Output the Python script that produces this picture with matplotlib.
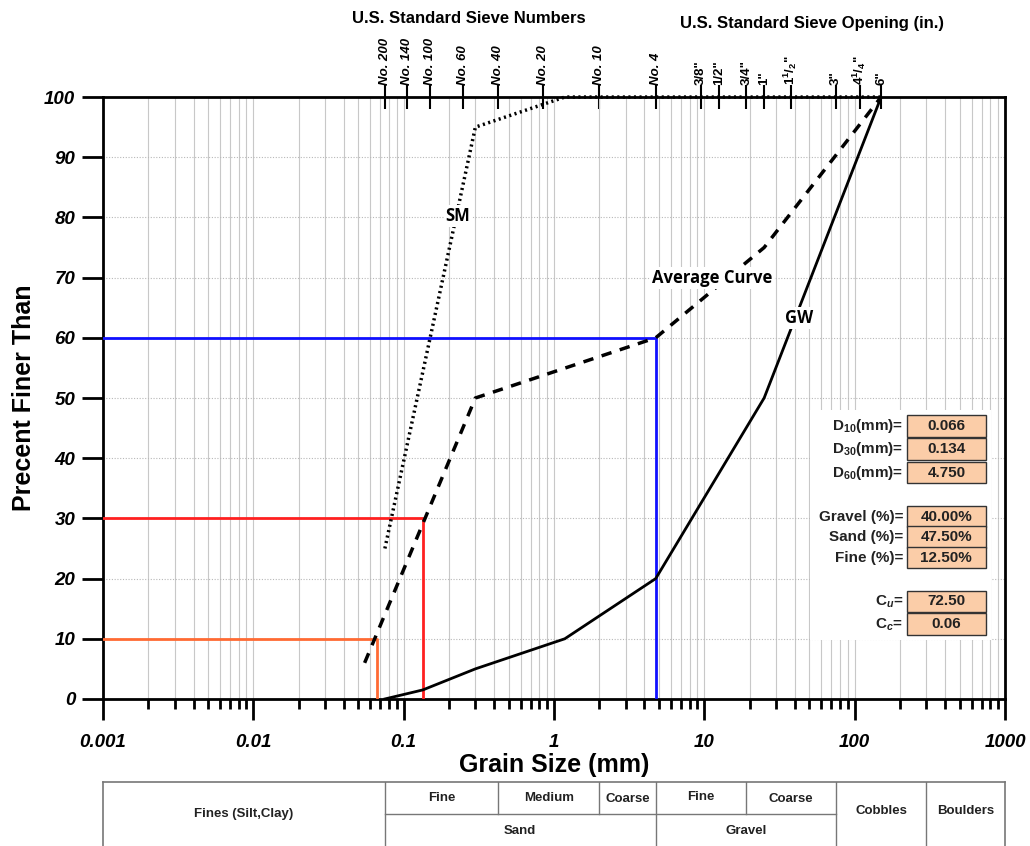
import numpy as np
import matplotlib.pyplot as plt
from matplotlib.patches import Rectangle
from matplotlib.ticker import LogLocator, NullFormatter, FixedLocator

plt.rcParams['font.family'] = ['Liberation Sans', 'DejaVu Sans']
plt.rcParams['mathtext.fontset'] = 'custom'
plt.rcParams['mathtext.rm'] = 'Liberation Sans:bold'
plt.rcParams['mathtext.it'] = 'Liberation Sans:bold:italic'
plt.rcParams['mathtext.bf'] = 'Liberation Sans:bold'

# gradation curves (grain size mm, percent finer)
sm_size = [0.075, 0.3, 0.85, 1.18, 150]
sm_pass = [25, 95, 98.8, 100, 100]
gw_size = [0.075, 0.134, 0.3, 1.18, 4.75, 25, 150]
gw_pass = [0, 1.5, 5, 10, 20, 50, 100]
avg_size = [0.055, 0.3, 4.75, 25, 150]
avg_pass = [6, 50, 60, 75, 100]

# characteristic diameters
d_vals = [0.066, 0.134, 4.75]
d_pct = [10, 30, 60]
d_colors = ['#ff6a33', '#ff2020', '#1010ff']

# top axis sieves
sieve_no_mm = [0.075, 0.106, 0.15, 0.25, 0.425, 0.85, 2.0, 4.75]
sieve_no_lbl = ['No. 200', 'No. 140', 'No. 100', 'No. 60', 'No. 40', 'No. 20', 'No. 10', 'No. 4']
sieve_in_mm = [9.5, 12.5, 19, 25, 37.5, 75, 108, 150]
sieve_in_lbl = ['3/8"', '1/2"', '3/4"', '1"', r'1$^{1}$/$_{2}$"', '3"', r'4$^{1}$/$_{4}$"', '6"']

info_labels = ['D$_{10}$(mm)=', 'D$_{30}$(mm)=', 'D$_{60}$(mm)=',
               'Gravel (%)=', 'Sand (%)=', 'Fine (%)=', 'C$_{u}$=', 'C$_{c}$=']
info_values = ['0.066', '0.134', '4.750', '40.00%', '47.50%', '12.50%', '72.50', '0.06']

fig = plt.figure(figsize=(10.30, 8.46), dpi=100)
ax = fig.add_axes([0.1, 0.1738, 0.8757, 0.7115])

ax.set_xscale('log')
ax.set_xlim(0.001, 1000)
ax.set_ylim(0, 100)

ax.grid(True, which='both', axis='x', color='#c8c8c8', lw=0.8)
ax.grid(True, which='major', axis='y', color='#b8b8b8', lw=0.8, ls=(0, (1, 1.5)))

for d, p, c in zip(d_vals, d_pct, d_colors):
    ax.plot([0.001, d, d], [p, p, 0], color=c, lw=2, zorder=3)

ax.plot(sm_size, sm_pass, color='black', lw=2.5, ls=(0, (0.6, 1.0)), zorder=4, clip_on=False)
ax.plot(avg_size, avg_pass, color='black', lw=2.5, ls=(0, (3, 2.5)), zorder=4)
ax.plot(gw_size, gw_pass, color='black', lw=2, zorder=4)

lbl_kw = dict(fontsize=12, fontweight='bold', family=['Open Sans', 'DejaVu Sans'],
              ha='center', va='center', zorder=5,
              bbox=dict(facecolor='white', edgecolor='none', pad=1.5))
ax.text(0.23, 80.3, 'SM', **lbl_kw)
ax.text(11.2, 70.0, 'Average Curve', **lbl_kw)
ax.text(43, 63.3, 'GW', **lbl_kw)

ax.xaxis.set_major_locator(LogLocator(base=10, numticks=10))
ax.xaxis.set_minor_locator(LogLocator(base=10, subs=np.arange(2, 10), numticks=20))
ax.xaxis.set_minor_formatter(NullFormatter())
ax.set_xticks([0.001, 0.01, 0.1, 1, 10, 100, 1000])
ax.set_xticklabels(['0.001', '0.01', '0.1', '1', '10', '100', '1000'],
                   fontsize=13.5, fontweight='bold', style='italic')
ax.set_yticks(range(0, 101, 10))
ax.set_yticklabels([str(v) for v in range(0, 101, 10)],
                   fontsize=13.5, fontweight='bold', style='italic')
ax.tick_params(axis='x', which='major', length=15, width=2, pad=10)
ax.tick_params(axis='x', which='minor', length=7, width=2)
ax.tick_params(axis='y', which='major', length=15, width=2, pad=5)
for s in ax.spines.values():
    s.set_linewidth(2)

ax.set_xlabel('Grain Size (mm)', fontsize=18, fontweight='bold', labelpad=2)
ax.set_ylabel('Precent Finer Than', fontsize=18, fontweight='bold', labelpad=6)

# sieve ticks on top: numbers (italic) and openings (upright)
for locs, lbls, sty in [(sieve_no_mm, sieve_no_lbl, 'italic'),
                        (sieve_in_mm, sieve_in_lbl, 'normal')]:
    top = ax.secondary_xaxis('top')
    top.xaxis.set_major_locator(FixedLocator(locs))
    top.set_xticks(locs)
    top.set_xticklabels(lbls, rotation=90, fontsize=9.5, fontweight='bold', style=sty)
    top.xaxis.set_minor_locator(FixedLocator([]))
    top.tick_params(axis='x', which='major', direction='inout', length=17, width=1.5, pad=0)
    top.spines['top'].set_visible(False)

fig.text(0.455, 0.978, 'U.S. Standard Sieve Numbers', fontsize=12, fontweight='bold',
         ha='center', va='center')
fig.text(0.788, 0.972, 'U.S. Standard Sieve Opening (in.)', fontsize=12, fontweight='bold',
         ha='center', va='center')

# info panel
ax.add_patch(Rectangle((0.784, 0.098), 0.2, 0.382, transform=ax.transAxes,
                       facecolor='white', edgecolor='none', zorder=6))
row_y = [0.453, 0.415, 0.376, 0.303, 0.269, 0.235, 0.162, 0.124]
for lab, val, yy in zip(info_labels, info_values, row_y):
    ax.add_patch(Rectangle((0.891, yy - 0.018), 0.088, 0.036, transform=ax.transAxes,
                           facecolor='#fbcda8', edgecolor='#333333', lw=1, zorder=7))
    ax.text(0.935, yy, val, transform=ax.transAxes, ha='center', va='center',
            fontsize=11, fontweight='bold', color='#222222', zorder=8)
    ax.text(0.887, yy, lab, transform=ax.transAxes, ha='right', va='center',
            fontsize=11, fontweight='bold', color='#222222', zorder=8)

# soil classification table
tb = fig.add_axes([0.1, 0.0, 0.8757, 0.0757])
tb.set_xscale('log')
tb.set_xlim(0.001, 1000)
tb.set_ylim(0, 1)
tb.axis('off')
edge = '#777777'
tb.plot([0.001, 1000], [1, 1], color=edge, lw=1.2, clip_on=False)
tb.plot([0.001, 0.001], [0, 1], color=edge, lw=1.2, clip_on=False)
tb.plot([1000, 1000], [0, 1], color=edge, lw=1.2, clip_on=False)
for b in [0.075, 4.75, 75, 300]:
    tb.plot([b, b], [0, 1], color=edge, lw=1)
for b in [0.425, 2.0, 19]:
    tb.plot([b, b], [0.5, 1], color=edge, lw=1)
tb.plot([0.075, 75], [0.5, 0.5], color=edge, lw=1)

t_kw = dict(ha='center', va='center', fontsize=9.5, fontweight='bold', color='#222222')
tb.text(np.sqrt(0.001 * 0.075), 0.5, 'Fines (Silt,Clay)', **t_kw)
tb.text(np.sqrt(0.075 * 0.425), 0.75, 'Fine', **t_kw)
tb.text(np.sqrt(0.425 * 2.0), 0.75, 'Medium', **t_kw)
tb.text(np.sqrt(2.0 * 4.75), 0.73, 'Coarse', **t_kw)
tb.text(np.sqrt(4.75 * 19), 0.77, 'Fine', **t_kw)
tb.text(np.sqrt(19 * 75), 0.74, 'Coarse', **t_kw)
tb.text(np.sqrt(0.075 * 4.75), 0.23, 'Sand', **t_kw)
tb.text(np.sqrt(4.75 * 75), 0.23, 'Gravel', **t_kw)
tb.text(np.sqrt(75 * 300), 0.55, 'Cobbles', **t_kw)
tb.text(np.sqrt(300 * 1000), 0.55, 'Boulders', **t_kw)

fig.savefig('out.png', dpi=100)
